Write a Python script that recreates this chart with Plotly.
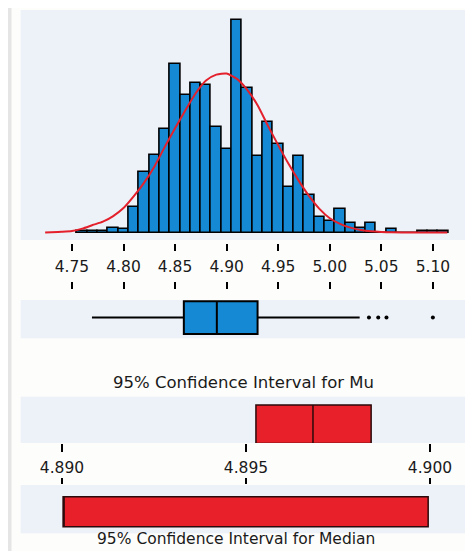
import plotly.graph_objects as go

# ---------------- data ----------------
BIN_CENTERS = [4.76, 4.77, 4.78, 4.79, 4.80, 4.81, 4.82, 4.83, 4.84, 4.85, 4.86, 4.87,
               4.88, 4.89, 4.90, 4.91, 4.92, 4.93, 4.94, 4.95, 4.96, 4.97, 4.98, 4.99,
               5.00, 5.01, 5.02, 5.03, 5.04, 5.05, 5.06, 5.07, 5.08, 5.09, 5.10, 5.11]
COUNTS = [1, 1, 1, 3, 2, 15, 36, 46, 61, 99, 81, 88,
          87, 62, 49, 125, 85, 45, 65, 52, 27, 45, 22, 9,
          7, 14, 6, 3, 6, 0, 2, 0, 0, 1, 1, 1]
BIN_WIDTH = 0.01

# fitted normal curve
CURVE_X = [4.724, 4.73, 4.74, 4.75, 4.76, 4.77, 4.78, 4.79, 4.80, 4.81, 4.82, 4.83,
           4.84, 4.85, 4.86, 4.87, 4.88, 4.89, 4.90, 4.91, 4.92, 4.93, 4.94, 4.95,
           4.96, 4.97, 4.98, 4.99, 5.00, 5.01, 5.02, 5.03, 5.04, 5.05, 5.06, 5.08, 5.114]
CURVE_Y = [0.05, 0.2, 0.5, 1.0, 2.4, 4.5, 6.5, 9.8, 14.5, 21.5, 29.5, 39,
           50.5, 61.5, 72, 82, 89.5, 93, 93.6, 90.5, 84, 75, 63, 51.5,
           40.5, 30.5, 21.5, 14, 8.5, 5.2, 3.0, 1.6, 0.8, 0.4, 0.2, 0.1, 0.1]

BOX_LOW = 4.7694
BOX_Q1 = 4.8585
BOX_MEDIAN = 4.8905
BOX_Q3 = 4.9300
BOX_HIGH = 5.0290
OUTLIERS = [5.038, 5.047, 5.055, 5.100]

MU_LO, MU_MEAN, MU_HI = 4.89527, 4.89682, 4.89840
MED_LO, MED_HI = 4.89003, 4.89995

HIST_TICKS = [4.75, 4.80, 4.85, 4.90, 4.95, 5.00, 5.05, 5.10]
HIST_TICKTEXT = ["4.75", "4.80", "4.85", "4.90", "4.95", "5.00", "5.05", "5.10"]
CI_TICKS = [4.890, 4.895, 4.900]
CI_TICKTEXT = ["4.890", "4.895", "4.900"]

TITLE_MU = "95% Confidence Interval for Mu"
TITLE_MEDIAN = "95% Confidence Interval for Median"

# ---------------- style / layout ----------------
PAGE_OFFSET = 8          # the browser's default body margin
W, H = 473 - PAGE_OFFSET, 551 - PAGE_OFFSET
BLUE = "#1589d3"
RED = "#e8202a"
PANEL = "#edf1f8"
FONT = "DejaVu Sans"
TEXT = "#1a1a1a"
HIST_RANGE = [4.7003, 5.1389]
CI_RANGE = [4.888878, 4.901168]


def xp(px):
    return (px - PAGE_OFFSET) / W


def yp(px):
    return 1 - (px - PAGE_OFFSET) / H


def ydom(top_px, bottom_px):
    return [yp(bottom_px), yp(top_px)]


XDOM = [xp(20.7), 1.0]

fig = go.Figure()

fig.add_trace(go.Bar(
    x=BIN_CENTERS, y=COUNTS, width=BIN_WIDTH,
    marker=dict(color=BLUE, line=dict(color="black", width=1.6)),
    xaxis="x", yaxis="y", showlegend=False, hoverinfo="skip"))

fig.add_trace(go.Scatter(
    x=CURVE_X, y=CURVE_Y, mode="lines",
    line=dict(color="#e3202b", width=2, shape="spline", smoothing=0.6),
    xaxis="x", yaxis="y", showlegend=False, hoverinfo="skip"))

# invisible helpers so the two tick-only axes get drawn
for ax in ("x5", "x6"):
    fig.add_trace(go.Scatter(
        x=HIST_TICKS, y=[0] * len(HIST_TICKS), mode="markers",
        marker=dict(opacity=0, size=1), xaxis=ax, yaxis="y",
        showlegend=False, hoverinfo="skip"))

fig.add_trace(go.Box(
    y=[0], q1=[BOX_Q1], median=[BOX_MEDIAN], q3=[BOX_Q3],
    lowerfence=[BOX_LOW], upperfence=[BOX_HIGH],
    orientation="h", width=0.86, whiskerwidth=0,
    fillcolor=BLUE, line=dict(color="black", width=2),
    xaxis="x2", yaxis="y2", showlegend=False, hoverinfo="skip"))

fig.add_trace(go.Scatter(
    x=OUTLIERS, y=[0] * len(OUTLIERS), mode="markers",
    marker=dict(color="black", size=4),
    xaxis="x2", yaxis="y2", showlegend=False, hoverinfo="skip"))

fig.add_trace(go.Box(
    y=[0], q1=[MU_LO], median=[MU_MEAN], q3=[MU_HI],
    lowerfence=[MU_LO], upperfence=[MU_HI],
    orientation="h", width=0.83, whiskerwidth=0,
    fillcolor=RED, line=dict(color="#2a0a0a", width=1.5),
    xaxis="x3", yaxis="y3", showlegend=False, hoverinfo="skip"))

fig.add_trace(go.Box(
    y=[0], q1=[MED_LO], median=[MED_LO], q3=[MED_HI],
    lowerfence=[MED_LO], upperfence=[MED_HI],
    orientation="h", width=0.62, whiskerwidth=0,
    fillcolor=RED, line=dict(color="#2a0a0a", width=1.5),
    xaxis="x4", yaxis="y4", showlegend=False, hoverinfo="skip"))

hidden = dict(showgrid=False, zeroline=False, showline=False, ticks="",
              showticklabels=False, fixedrange=True)
tickstyle = dict(showgrid=False, zeroline=False, showline=False, ticks="outside",
                 tickwidth=1.5, tickcolor="black", fixedrange=True)

fig.update_layout(
    width=W, height=H, margin=dict(l=0, r=0, t=0, b=0),
    paper_bgcolor="#fdfdfb", plot_bgcolor=PANEL,
    bargap=0, showlegend=False,
    font=dict(family=FONT, color=TEXT),
    xaxis=dict(domain=XDOM, range=HIST_RANGE, anchor="y", **hidden),
    yaxis=dict(domain=ydom(10, 240), range=[-4.29, 131], anchor="x", **hidden),
    xaxis2=dict(domain=XDOM, range=HIST_RANGE, anchor="y2", **hidden),
    yaxis2=dict(domain=ydom(300, 338.3), range=[-0.54, 0.46], anchor="x2", **hidden),
    xaxis3=dict(domain=XDOM, range=CI_RANGE, anchor="y3", ticklen=8,
                tickvals=CI_TICKS, ticktext=CI_TICKTEXT,
                tickfont=dict(family=FONT, size=15.5, color=TEXT),
                ticklabelstandoff=2, **tickstyle),
    yaxis3=dict(domain=ydom(396.7, 443), range=[-0.406, 0.594], anchor="x3", **hidden),
    xaxis4=dict(domain=XDOM, range=CI_RANGE, anchor="y4", side="top", ticklen=6,
                tickvals=CI_TICKS, showticklabels=False, **tickstyle),
    yaxis4=dict(domain=ydom(485, 533.3), range=[-0.447, 0.553], anchor="x4", **hidden),
    xaxis5=dict(overlaying="x", anchor="free", position=yp(243), side="bottom",
                range=HIST_RANGE, ticklen=7, tickvals=HIST_TICKS,
                ticktext=HIST_TICKTEXT,
                tickfont=dict(family=FONT, size=15.5, color=TEXT),
                ticklabelstandoff=2, **tickstyle),
    xaxis6=dict(overlaying="x", anchor="free", position=yp(288.5), side="top",
                range=HIST_RANGE, ticklen=7, tickvals=HIST_TICKS,
                showticklabels=False, **tickstyle),
    shapes=[dict(type="rect", xref="paper", yref="paper", x0=0, x1=xp(11.5),
                 y0=0, y1=1, fillcolor="#e5e5e5", line=dict(width=0), layer="below")],
    annotations=[
        dict(text=TITLE_MU, xref="paper", yref="paper", x=xp(243.5), y=yp(382),
             xanchor="center", yanchor="middle", showarrow=False,
             font=dict(family=FONT, size=16.5, color=TEXT)),
        dict(text=TITLE_MEDIAN, xref="paper", yref="paper", x=xp(236), y=yp(539),
             xanchor="center", yanchor="middle", showarrow=False,
             font=dict(family=FONT, size=15.5, color=TEXT)),
    ],
)

fig.write_html("out.html")
